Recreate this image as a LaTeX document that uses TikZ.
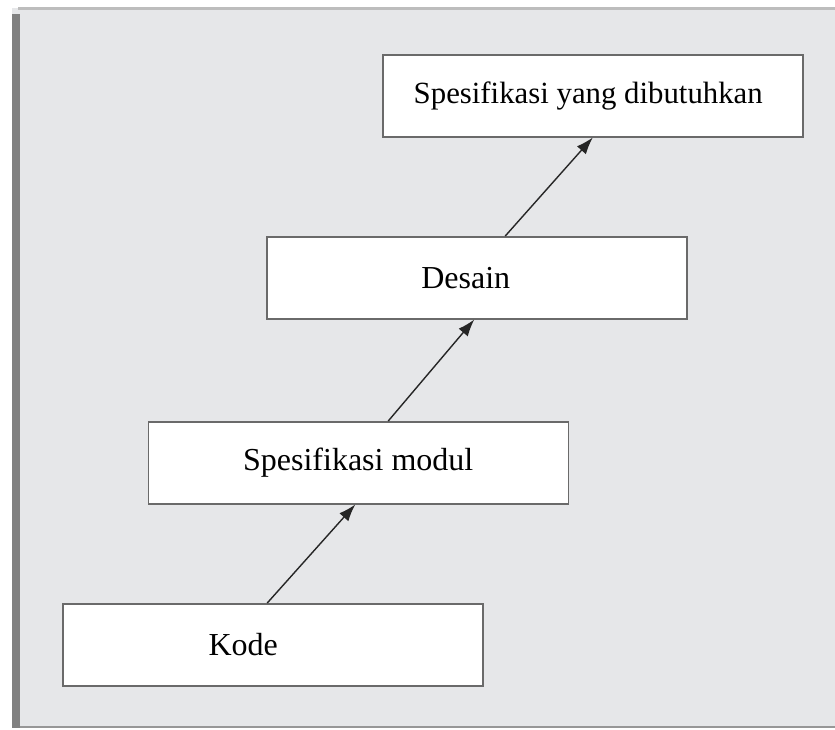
\documentclass[tikz,border=0pt]{standalone}
\usepackage{fontspec}
\setmainfont{Liberation Serif}
\usepackage{tikz}
\usetikzlibrary{arrows.meta, positioning}

\definecolor{panelgray}{HTML}{E6E7E9}
\definecolor{edgegray}{HTML}{808080}
\definecolor{linegray}{HTML}{BDBDBD}
\definecolor{boxline}{HTML}{6A6A6A}

\begin{document}
\begin{tikzpicture}[
    x=0.5pt, y=-0.5pt,
    box/.style={rectangle, draw=boxline, line width=0.75pt, fill=white, minimum width=210pt, minimum height=41pt, inner sep=0pt, font=\fontsize{16}{19}\selectfont},
    arrow/.style={line width=0.7pt, draw=black!85, -{Latex[length=8.5pt, width=6pt]}}
]
\useasboundingbox (0,0) rectangle (835,729);
\fill[panelgray] (12,8) rectangle (835,728);
\fill[linegray] (18,7) rectangle (835,10);
\fill[edgegray] (12,14) rectangle (20,728);
\fill[linegray!80!black] (20,726) rectangle (835,728);

\node [box, anchor=north west] (kode) at (62,603) {Kode\hspace*{29.5pt}};
\node [box, above right=49.25pt and 42.75pt of kode.north west] (modul) {Spesifikasi modul};
\node [box, above right=50.75pt and 59.25pt of modul.north west] (desain) {Desain\hspace*{11pt}};
\node [box, above right=49.25pt and 58pt of desain.north west] (spek) {\fontsize{15.4}{19}\selectfont Spesifikasi yang dibutuhkan\hspace*{4.5pt}};

\draw [arrow] ([xshift=-2.75pt]kode.north) -- ([xshift=-1.5pt]modul.south);
\draw [arrow] ([xshift=15pt]modul.north) -- ([xshift=-1.25pt]desain.south);
\draw [arrow] ([xshift=14.25pt]desain.north) -- (spek.south);
\end{tikzpicture}
\end{document}
